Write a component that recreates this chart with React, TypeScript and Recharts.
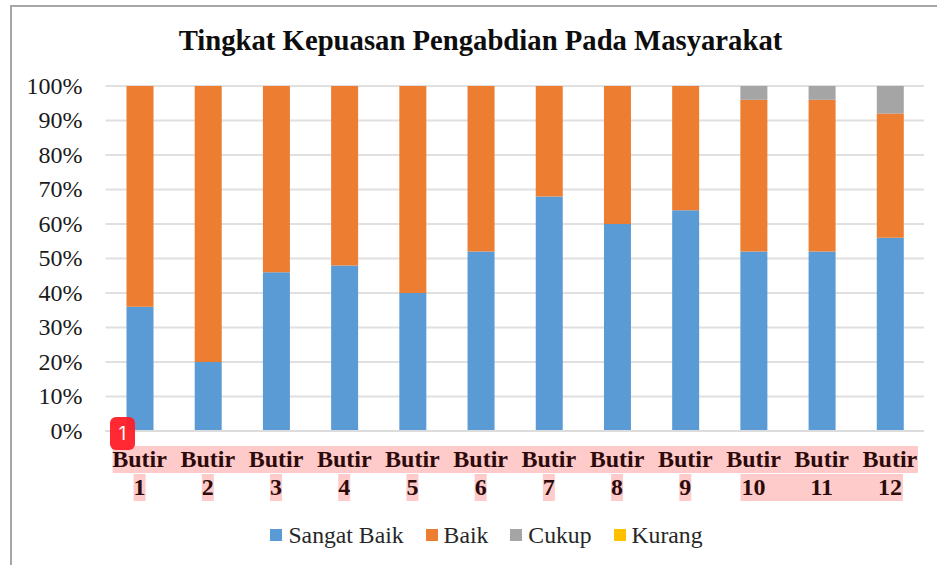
import React from "react";
import { BarChart, Bar, XAxis, YAxis, CartesianGrid, Legend } from "recharts";

const categories = ["Butir 1","Butir 2","Butir 3","Butir 4","Butir 5","Butir 6","Butir 7","Butir 8","Butir 9","Butir 10","Butir 11","Butir 12"];
const sangatBaik = [36,20,46,48,40,52,68,60,64,52,52,56];
const baik = [64,80,54,52,60,48,32,40,36,44,44,36];
const cukup = [0,0,0,0,0,0,0,0,0,4,4,8];
const kurang = [0,0,0,0,0,0,0,0,0,0,0,0];
const yTicks = [0,10,20,30,40,50,60,70,80,90,100];
const data = categories.map((c,i)=>({c,sangatBaik:sangatBaik[i],baik:baik[i],cukup:cukup[i],kurang:kurang[i]}));
const F = '"Liberation Serif", serif';

const XTick = (p: any) => {
  const { x, payload, index } = p;
  const [a, b] = String(payload.value).split(" ");
  const last = categories.length - 1;
  const half = 34.6;
  const rowL = index === 0 ? 27 : half;
  const rowR = index === last ? 28 : half;
  const two = b.length > 1;
  const numL = !two ? 6 : index === 9 ? 13 : half;
  const numR = !two ? 6 : index === last ? 13 : half;
  return (
    <g>
      <rect x={x-rowL} y={446} width={rowL+rowR} height={27} fill="#ffcaca" />
      <rect x={x-numL} y={474} width={numL+numR} height={27} fill="#ffcaca" />
      <text x={x} y={467} textAnchor="middle" fontFamily={F} fontWeight="bold" fontSize={24} fill="#2d0a0a">{a}</text>
      <text x={x} y={495} textAnchor="middle" fontFamily={F} fontWeight="bold" fontSize={24} fill="#2d0a0a">{b}</text>
    </g>
  );
};

const LegendBox = (p: any) => (
  <div style={{ display: "flex", justifyContent: "center", paddingLeft: 58, height: 28, alignItems: "center", fontFamily: F, fontSize: 23.7, color: "#262626", boxSizing: "border-box" }}>
    {p.payload.map((e: any) => (
      <span key={e.value} style={{ display: "inline-flex", alignItems: "center", marginRight: 22 }}>
        <span style={{ width: 12, height: 12, background: e.color, marginRight: 6, display: "inline-block" }} />
        {e.value}
      </span>
    ))}
  </div>
);

export default function App() {
  return (
    <div style={{ position: "absolute", left: 0, top: 0, width: 937, height: 565, overflow: "hidden", background: "#fff" }}>
      <div style={{ position: "absolute", left: 10, top: 5, width: 940, height: 580, border: "2px solid #a6a6a6", boxSizing: "border-box" }} />
      <div style={{ position: "absolute", left: 0, width: 937, top: 26, textAlign: "center", paddingLeft: 24, boxSizing: "border-box", fontFamily: F, fontWeight: "bold", fontSize: 28.7, lineHeight: "28px", color: "#0d0d0d" }}>Tingkat Kepuasan Pengabdian Pada Masyarakat</div>
      <BarChart width={937} height={565} data={data} style={{ position: "absolute", left: 0, top: 0 }} margin={{ top: 86, right: 13, bottom: 0, left: 0 }}>
        <CartesianGrid vertical={false} stroke="#e0e0e0" strokeWidth={2} />
        <XAxis dataKey="c" interval={0} axisLine={{ stroke: "#dcdcdc", strokeWidth: 2 }} tickLine={false} tick={<XTick />} height={90} />
        <YAxis width={105.5} domain={[0,100]} ticks={yTicks} interval={0} tickFormatter={(v:number)=>v+"%"} axisLine={false} tickLine={false} tick={{ fontFamily: F, fontSize: 24, fill: "#1a1a1a", dy: -1 }} tickMargin={17} />
        <Legend verticalAlign="bottom" itemSorter={null} content={<LegendBox />} wrapperStyle={{ left: 0, width: 937, height: 44, bottom: 0 }} />
        <Bar dataKey="sangatBaik" name="Sangat Baik" stackId="a" fill="#5b9bd5" barSize={27} isAnimationActive={false} />
        <Bar dataKey="baik" name="Baik" stackId="a" fill="#ed7d31" barSize={27} isAnimationActive={false} />
        <Bar dataKey="cukup" name="Cukup" stackId="a" fill="#a5a5a5" barSize={27} isAnimationActive={false} />
        <Bar dataKey="kurang" name="Kurang" stackId="a" fill="#ffc000" barSize={27} isAnimationActive={false} />
      </BarChart>
      <div style={{ position: "absolute", left: 110, top: 417, width: 25, height: 33, borderRadius: 6, background: "rgba(255,30,40,0.95)", color: "#fff", fontFamily: "Inter, sans-serif", fontSize: 18, lineHeight: "33px", textAlign: "center" }}>1</div>
    </div>
  );
}
